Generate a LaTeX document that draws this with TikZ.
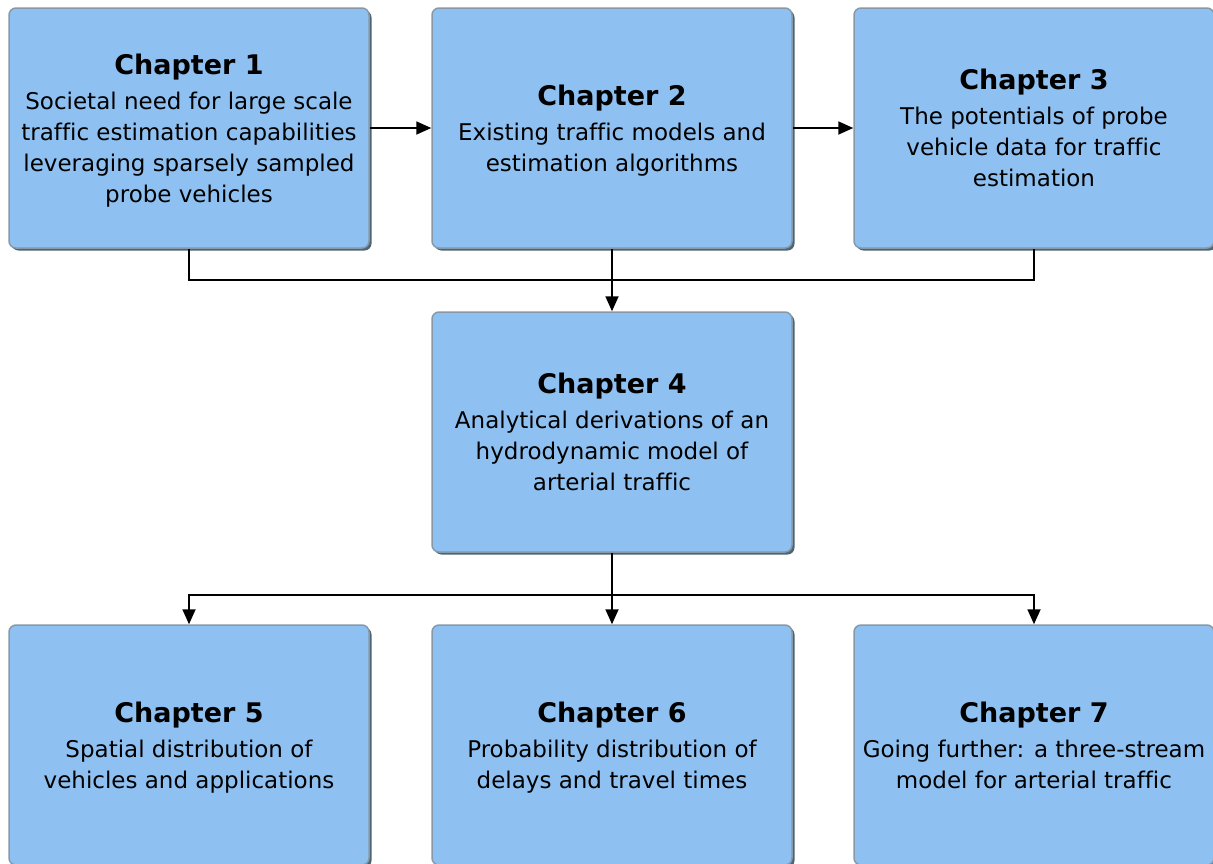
\documentclass[tikz,border=0pt]{standalone}
\usepackage{fontspec}
\setmainfont[Ligatures=NoCommon]{DejaVu Sans}
\usetikzlibrary{arrows.meta, positioning, shadows}
\definecolor{chapfill}{HTML}{8EC1F1}
\definecolor{chapedge}{HTML}{8799A8}
\definecolor{chapshade}{HTML}{4D6572}

\begin{document}
\begin{tikzpicture}[x=1pt, y=-1pt,
    chapter/.style={rectangle, rounded corners=7pt, draw=chapedge, line width=1.5pt, fill=chapfill,
        minimum width=360pt, minimum height=240pt, align=center, inner sep=0pt, text depth=0pt,
        font=\fontsize{23}{31}\selectfont,
        drop shadow={shadow xshift=2.5pt, shadow yshift=-2.5pt, fill=chapshade, opacity=1}},
    link/.style={line width=1.8pt, -{Triangle[length=15pt, width=13pt]}}
]
\useasboundingbox (0,0) rectangle (1213,863);

% Top row
\node[chapter] (c1) at (189,128) {{\fontsize{27}{31}\selectfont\bfseries Chapter 1}\\[4pt]Societal need for large scale\\traffic estimation capabilities\\leveraging sparsely sampled\\probe vehicles};
\node[chapter] (c2) at (612,128) {{\fontsize{27}{31}\selectfont\bfseries Chapter 2}\\[4pt]Existing traffic models and\\estimation algorithms};
\node[chapter] (c3) at (1034,128) {{\fontsize{27}{31}\selectfont\bfseries Chapter 3}\\[4pt]The potentials of probe\\vehicle data for traffic\\estimation};

% Middle
\node[chapter] (c4) at (612,432) {{\fontsize{27}{31}\selectfont\bfseries Chapter 4}\\[4pt]Analytical derivations of an\\hydrodynamic model of\\arterial traffic};

% Bottom row
\node[chapter] (c5) at (189,745) {{\fontsize{27}{31}\selectfont\bfseries Chapter 5}\\[4pt]Spatial distribution of\\vehicles and applications};
\node[chapter] (c6) at (612,745) {{\fontsize{27}{31}\selectfont\bfseries Chapter 6}\\[4pt]Probability distribution of\\delays and travel times};
\node[chapter] (c7) at (1034,745) {{\fontsize{27}{31}\selectfont\bfseries Chapter 7}\\[4pt]Going further: a three-stream\\model for arterial traffic};

% Connectors
\coordinate (join) at (612,280);
\coordinate (split) at (612,595);
\draw[link] (c1.east) -- (c2.west);
\draw[link] (c2.east) -- (c3.west);
\draw[line width=1.8pt] (c1.south) |- (join) -| (c3.south);
\draw[link] (c2.south) -- (c4.north);
\draw[line width=1.8pt] (c4.south) -- (split);
\draw[link] (split) -| (c5.north);
\draw[link] (split) -- (c6.north);
\draw[link] (split) -| (c7.north);

\end{tikzpicture}
\end{document}
